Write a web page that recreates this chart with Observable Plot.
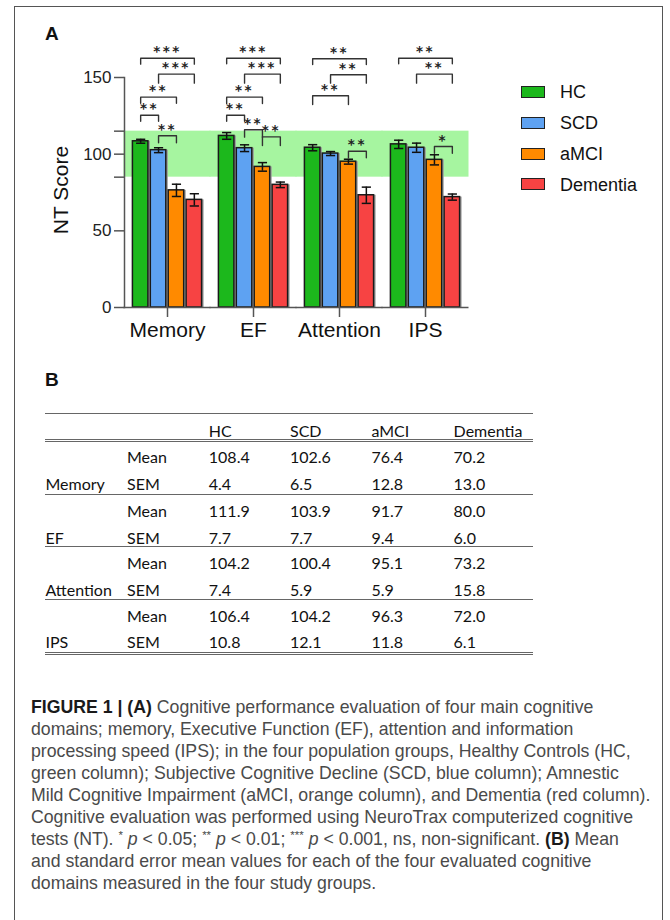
<!DOCTYPE html>
<html><head><meta charset="utf-8">
<script src="https://cdn.jsdelivr.net/npm/d3@7"></script>
<script src="https://cdn.jsdelivr.net/npm/@observablehq/plot@0.6"></script>
<style>
body{margin:0;background:#fff;}
#fig{position:relative;width:670px;height:920px;overflow:hidden;font-family:"Liberation Sans",Arial,sans-serif;color:#111;}
#border{position:absolute;left:14px;top:6px;width:649px;height:1000px;border:1px solid #555;box-sizing:border-box;}
.abs{position:absolute;white-space:nowrap;}
.tbl{font-family:Lato,"Open Sans",sans-serif;font-size:16px;line-height:16px;color:#111;}
.cap{font-size:17.7px;line-height:22px;color:#4a4a4a;left:31px;}
.cap b{color:#1a1a1a;}
.cap sup{font-size:0.65em;line-height:0;vertical-align:0.55em;}
#chart{position:absolute;left:0;top:0;}
g[aria-label="text"] text{letter-spacing:2.5px;}
</style></head>
<body><div id="fig"><div id="border"></div><div id="chart"></div></div>
<script>
// ---------- data ----------
const domains = ["Memory", "EF", "Attention", "IPS"];
const groups = ["HC", "SCD", "aMCI", "Dementia"];
const colors = ["#1cb81c", "#5ea2f2", "#ff8a00", "#f74343"];
const means = [
  [108.4, 102.6, 76.4, 70.2],
  [111.9, 103.9, 91.7, 80.0],
  [104.2, 100.4, 95.1, 73.2],
  [106.4, 104.2, 96.3, 72.0]
];
const sems = [
  [4.4, 6.5, 12.8, 13.0],
  [7.7, 7.7, 9.4, 6.0],
  [7.4, 5.9, 5.9, 15.8],
  [10.8, 12.1, 11.8, 6.1]
];
// error bar half-lengths as drawn in panel A
const errBars = [
  [1.3, 1.6, 4.0, 4.0],
  [2.2, 2.2, 2.8, 1.8],
  [2.0, 1.3, 1.6, 5.3],
  [2.7, 3.0, 3.3, 2.0]
];
const normalRange = [85, 115];
const yTicks = [0, 50, 100, 150];
// significance brackets
const bracketDomain = ["Memory","Memory","Memory","Memory","Memory","EF","EF","EF","EF","EF","EF","Attention","Attention","Attention","Attention","IPS","IPS","IPS"];
const bracketFrom   = ["HC","SCD","HC","HC","SCD","HC","SCD","HC","HC","SCD","aMCI","HC","SCD","HC","aMCI","HC","SCD","aMCI"];
const bracketTo     = ["Dementia","Dementia","aMCI","SCD","aMCI","Dementia","Dementia","aMCI","SCD","aMCI","Dementia","Dementia","Dementia","aMCI","Dementia","Dementia","Dementia","Dementia"];
const bracketStars  = ["***","***","**","**","**","***","***","**","**","**","**","**","**","**","**","**","**","*"];
const bracketLevel  = [162.6,152.2,137.2,125.4,112.0,162.6,152.2,137.2,125.4,115.9,111.3,162.2,151.8,138.1,101.9,162.6,152.2,105.0];
const bracketFoot   = [158.7,146.3,133.2,121.5,107.4,158.9,146.3,133.0,121.5,111.1,105.7,158.5,146.3,132.4,97.6,158.9,146.3,100.6];
const statRows = ["Mean", "SEM"];

// ---------- derived tables ----------
const rows = [];
domains.forEach((d, di) => groups.forEach((g, gi) => rows.push({
  domain: d, group: g, i: gi, c: gi + 0.5, mean: means[di][gi],
  lo: means[di][gi] - errBars[di][gi], hi: means[di][gi] + errBars[di][gi]
})));
const caps = rows.flatMap(r => [{domain: r.domain, c: r.c, v: r.lo}, {domain: r.domain, c: r.c, v: r.hi}]);
const bpts = [], blabels = [];
bracketDomain.forEach((d, k) => {
  const a = groups.indexOf(bracketFrom[k]) + 0.5, b = groups.indexOf(bracketTo[k]) + 0.5;
  const L = bracketLevel[k], F = bracketFoot[k];
  bpts.push({id: k, domain: d, x: a, y: F}, {id: k, domain: d, x: a, y: L},
            {id: k, domain: d, x: b, y: L}, {id: k, domain: d, x: b, y: F});
  blabels.push({domain: d, x: (a + b) / 2, y: L, text: bracketStars[k]});
});
const capSymbol = {draw(ctx, size) { const r = Math.sqrt(size / Math.PI); ctx.moveTo(-r, 0); ctx.lineTo(r, 0); }};

// ---------- chart ----------
const chart = Plot.plot({
  width: 670, height: 350,
  marginLeft: 123, marginRight: 201, marginTop: 77, marginBottom: 43,
  style: {fontFamily: '"Liberation Sans", Arial, sans-serif', background: "transparent", overflow: "visible"},
  fx: {domain: domains, padding: 0},
  x: {domain: [-0.403, 4.403], axis: null},
  y: {domain: [0, 150]},
  color: {domain: groups, range: colors},
  marks: [
    Plot.rectY([normalRange], {y1: d => d[0], y2: d => d[1], fill: "#a6f5a0", insetLeft: -0.5, insetRight: -0.5}),
    Plot.rectY(rows, {fx: "domain", x: "i", interval: 1, y1: 0, y2: "mean", fill: "#9a9a9a", insetLeft: 1.2, insetRight: 1.2, dx: 2}),
    Plot.rectY(rows, {fx: "domain", x: "i", interval: 1, y1: 0, y2: "mean", fill: "group", stroke: "#1a1a1a", strokeWidth: 1.5, insetLeft: 1.2, insetRight: 1.2}),
    Plot.ruleX(rows, {fx: "domain", x: "c", y1: "lo", y2: "hi", stroke: "#111", strokeWidth: 1.5}),
    Plot.dot(caps, {fx: "domain", x: "c", y: "v", symbol: capSymbol, r: 4.6, stroke: "#111", strokeWidth: 1.5, fill: "none"}),
    Plot.line(bpts, {fx: "domain", x: "x", y: "y", z: "id", stroke: "#333", strokeWidth: 1.4}),
    Plot.text(blabels, {fx: "domain", x: "x", y: "y", text: "text", fontSize: 13.5, fontWeight: "bold", fontFamily: '"DejaVu Sans", sans-serif', lineAnchor: "bottom", dy: -2, fill: "#222"}),
    Plot.ruleY([0], {stroke: "#555", strokeWidth: 1.5, insetLeft: -0.5, insetRight: -0.5}),
    Plot.frame({anchor: "left", facetAnchor: "left", stroke: "#555", strokeWidth: 1.5}),
    Plot.axisY({ticks: yTicks, tickSize: 10, tickPadding: 3, fontSize: 17, stroke: "#555", strokeWidth: 1.5, fill: "#222", label: null}),
    Plot.axisY({ticks: normalRange, tickSize: 10, tickFormat: () => "", stroke: "#555", strokeWidth: 1.5, label: null}),
    Plot.axisFx({anchor: "bottom", tickSize: 10, tickPadding: 5, fontSize: 21, stroke: "#555", strokeWidth: 1.5, fill: "#111", label: null})
  ]
});
document.getElementById("chart").appendChild(chart);

// ---------- html parts ----------
const fig = document.getElementById("fig");
function add(html, cls, style) {
  const e = document.createElement("div");
  e.className = "abs " + (cls || "");
  e.innerHTML = html;
  Object.assign(e.style, style);
  fig.appendChild(e);
  return e;
}
// panel labels
add("A", "", {left: "45px", top: "24px", fontSize: "19px", lineHeight: "19px", fontWeight: "bold"});
add("B", "", {left: "45px", top: "369.5px", fontSize: "19px", lineHeight: "19px", fontWeight: "bold"});
// y label
add("NT Score", "", {left: "59.5px", top: "190px", fontSize: "21px", lineHeight: "21px", transform: "translate(-50%,-50%) rotate(-90deg)", color: "#111"});
// legend
groups.forEach((g, k) => {
  const cy = 92 + 30.8 * k;
  add("", "", {left: "521px", top: (cy - 6) + "px", width: "24px", height: "12px", boxSizing: "border-box", background: colors[k], border: "1.5px solid #222"});
  add(g, "", {left: "560px", top: (cy - 8.8) + "px", fontSize: "18px", lineHeight: "18px", color: "#111"});
});
// table
const colX = [45.5, 127, 208.8, 290, 371.4, 453.6];
const tLeft = 44.5, tWidth = 488;
function rule(y) { add("", "", {left: tLeft + "px", top: (y - 0.8) + "px", width: tWidth + "px", height: "0", borderTop: "1.6px solid #666"}); }
function dbl(y) { add("", "", {left: tLeft + "px", top: (y - 2) + "px", width: tWidth + "px", height: "1.2px", borderTop: "1.2px solid #666", borderBottom: "1.2px solid #666"}); }
function cell(t, x, cy) { add(t, "tbl", {left: x + "px", top: (cy - 8.5) + "px"}); }
rule(414);
groups.forEach((g, k) => cell(g, colX[2 + k], 431));
dbl(440.6);
const blockTop = [440.6, 494.7, 546.7, 599.3];
domains.forEach((d, di) => {
  const yM = blockTop[di] + 17, yS = blockTop[di] + 43.5;
  cell(d, colX[0], yS);
  cell(statRows[0], colX[1], yM);
  cell(statRows[1], colX[1], yS);
  groups.forEach((g, k) => {
    cell(means[di][k].toFixed(1), colX[2 + k], yM);
    cell(sems[di][k].toFixed(1), colX[2 + k], yS);
  });
  if (di < 3) rule(blockTop[di + 1]);
});
dbl(654);
// caption
const capLines = [
  "<b>FIGURE 1 | (A)</b> Cognitive performance evaluation of four main cognitive",
  "domains; memory, Executive Function (EF), attention and information",
  "processing speed (IPS); in the four population groups, Healthy Controls (HC,",
  "green column); Subjective Cognitive Decline (SCD, blue column); Amnestic",
  "Mild Cognitive Impairment (aMCI, orange column), and Dementia (red column).",
  "Cognitive evaluation was performed using NeuroTrax computerized cognitive",
  "tests (NT). <sup>*</sup> <i>p</i> &lt; 0.05; <sup>**</sup> <i>p</i> &lt; 0.01; <sup>***</sup> <i>p</i> &lt; 0.001, ns, non-significant. <b>(B)</b> Mean",
  "and standard error mean values for each of the four evaluated cognitive",
  "domains measured in the four study groups."
];
capLines.forEach((l, k) => add(l, "cap", {top: (695.5 + 22 * k) + "px"}));
</script>
</body></html>
